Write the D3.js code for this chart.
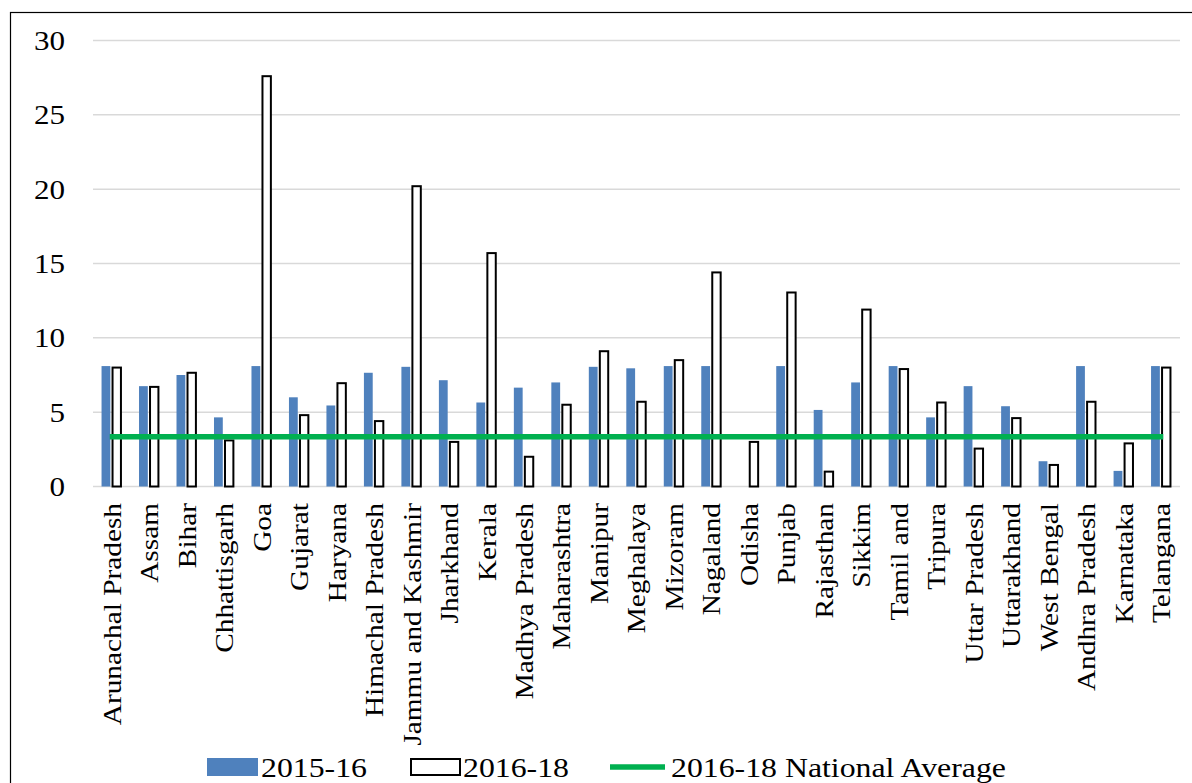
<!DOCTYPE html>
<html><head><meta charset="utf-8">
<script src="https://cdn.jsdelivr.net/npm/d3@7"></script>
<style>body{margin:0;background:#fff}svg{display:block}text{font-family:"Liberation Serif","Times New Roman",serif;fill:#000}</style>
</head><body>
<svg id="c" width="1192" height="783"></svg>
<script>
const categories = ["Arunachal Pradesh","Assam","Bihar","Chhattisgarh","Goa","Gujarat","Haryana","Himachal Pradesh","Jammu and Kashmir","Jharkhand","Kerala","Madhya Pradesh","Maharashtra","Manipur","Meghalaya","Mizoram","Nagaland","Odisha","Punjab","Rajasthan","Sikkim","Tamil and","Tripura","Uttar Pradesh","Uttarakhand","West Bengal","Andhra Pradesh","Karnataka","Telangana"];
const values2015 = [8.1,6.75,7.5,4.65,8.1,6.0,5.45,7.65,8.05,7.15,5.65,6.65,7.0,8.05,7.95,8.1,8.1,0,8.1,5.15,7.0,8.1,4.65,6.75,5.4,1.7,8.1,1.05,8.1];
const values2016 = [8.0,6.7,7.65,3.1,27.6,4.8,6.95,4.4,20.2,3.0,15.7,2.0,5.5,9.1,5.7,8.5,14.4,3.0,13.05,1.0,11.9,7.9,5.65,2.55,4.6,1.45,5.7,2.9,8.0];
const nationalAverage = 3.35;
const yTicks = [0,5,10,15,20,25,30];
const legendLabels = ["2015-16","2016-18","2016-18 National Average"];

const svg = d3.select("#c");
const x = d3.scaleBand().domain(categories).range([93,1180]).padding(0);
const y = d3.scaleLinear().domain([0,30]).range([486.5,40.5]);
const bw = x.bandwidth();

// frame
svg.append("rect").attr("x",10.5).attr("y",12.5).attr("width",1200).attr("height",800)
  .attr("fill","none").attr("stroke","#000").attr("stroke-width",1.2);

// gridlines
svg.append("g").selectAll("line").data(yTicks).join("line")
  .attr("x1",93).attr("x2",1180).attr("y1",d=>y(d)).attr("y2",d=>y(d))
  .attr("stroke","#d9d9d9").attr("stroke-width",1.5);

// y tick labels
svg.append("g").selectAll("text").data(yTicks).join("text")
  .attr("transform",d=>`translate(65,${y(d)}) scale(1.15,1)`)
  .attr("text-anchor","end").attr("dy","0.35em").attr("font-size",27).text(d=>d);

const cx = d => x(d) + bw/2;

// blue bars
svg.append("g").selectAll("rect").data(categories).join("rect")
  .attr("x",d=>cx(d)-10.2).attr("width",8.8)
  .attr("y",(d,i)=>y(values2015[i])).attr("height",(d,i)=>y(0)-y(values2015[i]))
  .attr("fill","#4f81bd");

// white outlined bars
svg.append("g").selectAll("rect").data(categories).join("rect")
  .attr("x",d=>cx(d)+0.8).attr("width",8.4)
  .attr("y",(d,i)=>y(values2016[i])).attr("height",(d,i)=>y(0)-y(values2016[i]))
  .attr("fill","#fff").attr("stroke","#000").attr("stroke-width",2);

// national average line
svg.append("line")
  .attr("x1",cx(categories[0])-2).attr("x2",cx(categories[categories.length-1])+2)
  .attr("y1",y(nationalAverage)).attr("y2",y(nationalAverage))
  .attr("stroke","#00b050").attr("stroke-width",5.5);

// x labels
svg.append("g").selectAll("text").data(categories).join("text")
  .attr("transform",d=>`translate(${cx(d)},503) rotate(-90) scale(1.15,1)`)
  .attr("text-anchor","end").attr("dy","0.35em").attr("font-size",25.5).text(d=>d);

// legend
const lg = svg.append("g");
lg.append("rect").attr("x",207).attr("y",758).attr("width",51).attr("height",18).attr("fill","#4f81bd");
lg.append("text").attr("transform","translate(261,777) scale(1.2,1)").attr("font-size",26.5).text(legendLabels[0]);
lg.append("rect").attr("x",411).attr("y",759).attr("width",49).attr("height",16).attr("fill","#fff").attr("stroke","#000").attr("stroke-width",2);
lg.append("text").attr("transform","translate(463,777) scale(1.2,1)").attr("font-size",26.5).text(legendLabels[1]);
lg.append("line").attr("x1",610).attr("x2",665).attr("y1",767).attr("y2",767).attr("stroke","#00b050").attr("stroke-width",5.5);
lg.append("text").attr("transform","translate(671,777) scale(1.2,1)").attr("font-size",26.5).text(legendLabels[2]);
</script>
</body></html>
